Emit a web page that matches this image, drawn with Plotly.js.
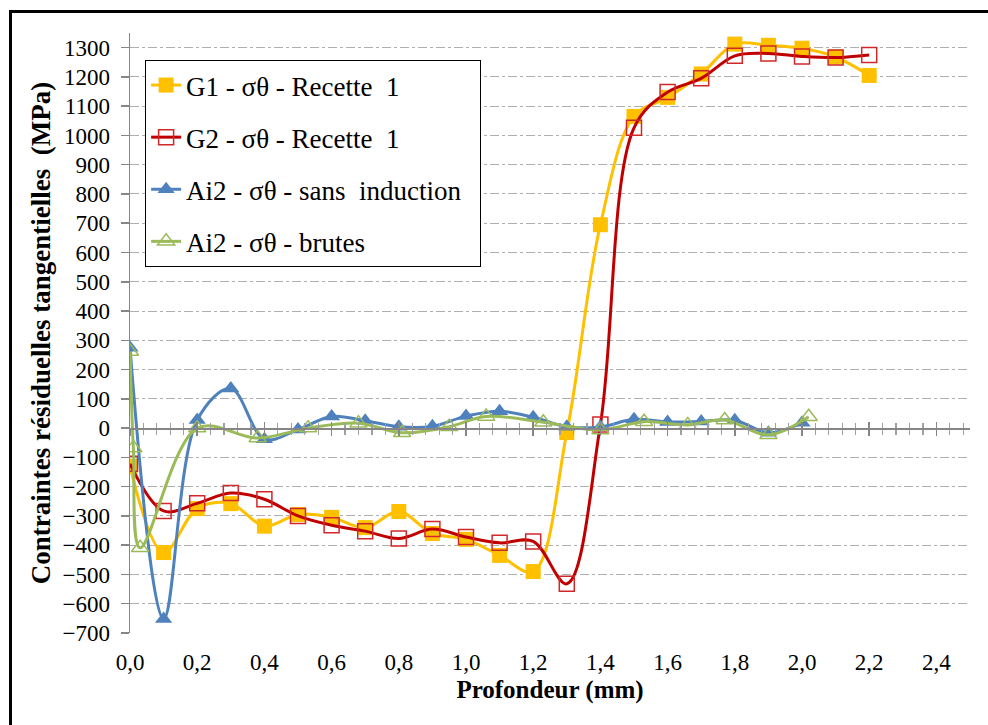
<!DOCTYPE html>
<html>
<head>
<meta charset="utf-8">
<script src="https://cdn.plot.ly/plotly-3.0.1.min.js"></script>
<style>
  html, body { margin: 0; padding: 0; background: #fff; overflow: hidden; width: 988px; height: 725px; }
  #chart { position: absolute; left: 0; top: 0; width: 988px; height: 725px; }
  #frame { position: absolute; left: 9px; top: 10px; width: 1100px; height: 1000px; border: 3px solid #000; pointer-events: none; }
</style>
</head>
<body>
<div id="chart"></div>
<div id="frame"></div>
<script>
// ---- data ----
const g1X = [0.0,0.1,0.2,0.3,0.4,0.5,0.6,0.7,0.8,0.9,1.0,1.1,1.2,1.3,1.4,1.5,1.6,1.7,1.8,1.9,2.0,2.1,2.2];
const g1Y = [-130,-425,-275,-258,-335,-295,-305,-340,-285,-360,-380,-435,-490,-15,695,1065,1130,1210,1312,1308,1298,1268,1205];

const g2X = [0.0,0.1,0.2,0.3,0.4,0.5,0.6,0.7,0.8,0.9,1.0,1.1,1.2,1.3,1.4,1.5,1.6,1.7,1.8,1.9,2.0,2.1,2.2];
const g2Y = [-122,-283,-257,-222,-243,-300,-332,-352,-377,-345,-372,-392,-387,-532,12,1026,1148,1195,1272,1280,1270,1266,1275];

const ai2sX = [0.0,0.1,0.2,0.3,0.4,0.5,0.6,0.7,0.8,0.9,1.0,1.1,1.2,1.3,1.4,1.5,1.6,1.7,1.8,1.9,2.0];
const ai2sY = [275,-652,28,135,-38,-5,40,25,5,6,41,58,37,5,4,30,21,23,27,-16,18];

const ai2bX = [0.0,0.01,0.03,0.2,0.38,0.53,0.68,0.81,0.95,1.06,1.23,1.40,1.53,1.66,1.77,1.90,2.02];
const ai2bY = [262,-68,-409,0,-34,0,17,-16,5,40,20,-6,22,11,28,-23,39];

const names = [
  "G1 - σθ - Recette  1",
  "G2 - σθ - Recette  1",
  "Ai2 - σθ - sans  induction\u00a0\u00a0",
  "Ai2 - σθ - brutes"
];
const xTickVals = [0,0.2,0.4,0.6,0.8,1.0,1.2,1.4,1.6,1.8,2.0,2.2,2.4];

// ---- traces ----
const fam = "Liberation Serif";
const traces = [
  {
    x: g1X, y: g1Y, name: names[0], legendgroup: "a", mode: "lines+markers",
    line: { color: "#FFC000", width: 3, shape: "spline", smoothing: 1 },
    marker: { symbol: "square", size: 15, color: "#FFC000", line: { width: 0 } }
  },
  {
    x: g2X, y: g2Y, name: names[1], legendgroup: "b", mode: "lines+markers",
    line: { color: "#C00000", width: 3, shape: "spline", smoothing: 1 },
    marker: { symbol: "square-open", size: 15, color: "#D02828", line: { width: 1.5, color: "#D02828" } }
  },
  {
    x: ai2sX, y: ai2sY, name: names[2], legendgroup: "c", mode: "lines+markers",
    line: { color: "#4F81BD", width: 3, shape: "spline", smoothing: 1 },
    marker: { symbol: "triangle-up", size: 15, color: "#4F81BD", line: { width: 0 } }
  },
  {
    x: ai2bX, y: ai2bY, name: names[3], legendgroup: "d", mode: "lines+markers",
    line: { color: "#9BBB59", width: 3, shape: "spline", smoothing: 1 },
    marker: { symbol: "triangle-up-open", size: 15, color: "#9BBB59", line: { width: 1.5, color: "#9BBB59" } }
  },
  { x: [], y: [], xaxis: "x2", yaxis: "y", showlegend: false, hoverinfo: "skip", type: "scatter" },
  { x: [], y: [], xaxis: "x3", yaxis: "y", showlegend: false, hoverinfo: "skip", type: "scatter" }
];

const yMin = -700, yMax = 1350;
const zeroPos = (0 - yMin) / (yMax - yMin);

const zeroAxis = (dir) => ({
  overlaying: "x", anchor: "free", position: zeroPos, range: [0, 2.5],
  showline: true, linecolor: "#868686", linewidth: 1.5,
  ticks: dir, ticklen: 6, tickcolor: "#868686", tickwidth: 1.5,
  tick0: 0, dtick: 0.2, showticklabels: false, showgrid: false, zeroline: false,
  minor: { tick0: 0, dtick: 0.04, ticks: dir, ticklen: 5, tickcolor: "#A0A0A0", tickwidth: 1.2, showgrid: false }
});

const layout = {
  width: 988, height: 725,
  margin: { l: 130, r: 18, t: 33, b: 92 },
  paper_bgcolor: "#fff", plot_bgcolor: "#fff",
  separators: ", ",
  font: { family: fam, color: "#000", size: 23 },
  showlegend: true,
  legend: {
    x: 0.018, y: 0.955, xanchor: "left", yanchor: "top",
    bgcolor: "#fff", bordercolor: "#000", borderwidth: 1,
    font: { family: fam, size: 27, color: "#000" },
    traceorder: "grouped", tracegroupgap: 14
  },
  xaxis: {
    range: [0, 2.5], tickvals: xTickVals, tickformat: ".1f",
    showline: false, ticks: "", showgrid: false, zeroline: false,
    ticklabelstandoff: 13,
    tickfont: { family: fam, size: 23, color: "#000" },
    title: { text: "<b>Profondeur (mm)</b>", font: { family: fam, size: 25, color: "#000" }, standoff: 6 }
  },
  xaxis2: zeroAxis("outside"),
  xaxis3: zeroAxis("inside"),
  yaxis: {
    range: [yMin, yMax], tick0: 0, dtick: 100,
    showline: true, linecolor: "#868686", linewidth: 1.5,
    ticks: "outside", ticklen: 8, tickcolor: "#868686", tickwidth: 1.5,
    showgrid: true, gridcolor: "#AFAFAF", griddash: "dashdot", gridwidth: 1,
    zeroline: false,
    ticklabelstandoff: 6,
    tickfont: { family: fam, size: 23, color: "#000" },
    title: { text: "<b>Contraintes résiduelles tangentielles  (MPa)</b>", font: { family: fam, size: 27, color: "#000" }, standoff: 4 }
  }
};

Plotly.newPlot("chart", traces, layout, { displayModeBar: false, staticPlot: true });
</script>
</body>
</html>
